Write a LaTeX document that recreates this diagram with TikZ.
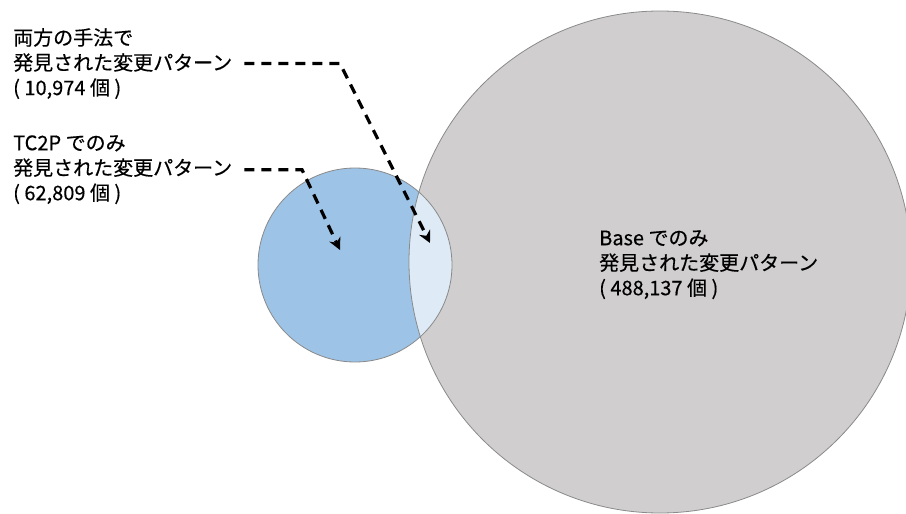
\documentclass[tikz,border=0pt]{standalone}
\usepackage{fontspec}
\setmainfont[FakeBold=0.4]{Noto Sans CJK JP}
\usepackage{tikz}
\usetikzlibrary{arrows.meta}

\definecolor{basegray}{HTML}{D0CECE}
\definecolor{tcblue}{HTML}{9DC3E6}
\definecolor{bothblue}{HTML}{DEEBF7}
\definecolor{circedge}{HTML}{8A8A8A}

\begin{document}
\begin{tikzpicture}[x=1pt,y=-1pt,
	circ/.style={draw=circedge,line width=0.8pt},
	note/.style={align=left,inner sep=0pt,anchor=north west,font=\fontsize{20}{25}\selectfont},
	pointer/.style={line width=3.2pt,dash pattern=on 10pt off 7pt,-{Stealth[length=12pt,width=12pt]}}]
		\useasboundingbox (0,0) rectangle (906,514);
		\clip (0,0) rectangle (906,514);
		% the two sets and their overlap
		\fill[basegray] (660,262) circle (251pt);
		\fill[tcblue] (355,265) circle (97pt);
		\begin{scope}
			\clip (660,262) circle (251pt);
			\fill[bothblue] (355,265) circle (97pt);
		\end{scope}
		\draw[circ] (660,262) circle (251pt);
		\draw[circ] (355,265) circle (97pt);
		% labels
		\node[note] (both) at (13,28) {両方の手法で\\発見された変更パターン\\( 10,974 個 )};
		\node[note] (tc) at (13,135) {TC2P でのみ\\発見された変更パターン\\( 62,809 個 )};
		\node[note] (base) at (599,230) {Base でのみ\\発見された変更パターン\\( 488,137 個 )};
		% pointers into the circles
		\coordinate (bothbend) at (340,63);
		\coordinate (bothtip) at (430,243);
		\coordinate (tcbend) at (302,167);
		\coordinate (tctip) at (340,250);
		\draw[pointer] ([xshift=12pt]both.east) -- (both.east -| bothbend) -- (bothtip);
		\draw[pointer] ([xshift=12pt]tc.east) -- (tc.east -| tcbend) -- (tctip);
	\end{tikzpicture}
\end{document}
